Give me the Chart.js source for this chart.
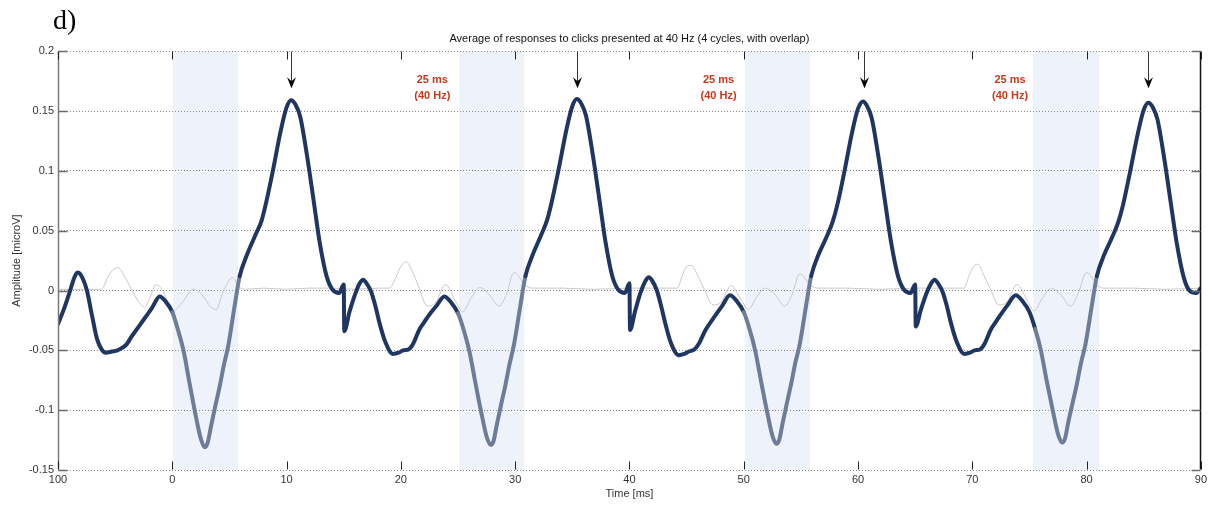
<!DOCTYPE html>
<html>
<head>
<meta charset="utf-8">
<script src="https://cdn.jsdelivr.net/npm/chart.js@4.4.0/dist/chart.umd.min.js"></script>
<style>
    body { margin: 0; background: #fff; }
    #wrap { position: relative; width: 1210px; height: 505px; }
    #panel {
        position: absolute; left: 53px; top: 4px; line-height: 30px;
        font: 28px "Liberation Serif", "Times New Roman", serif; color: #000;
    }
</style>
</head>
<body>
<div id="wrap">
    <canvas id="erpChart" width="1210" height="505"></canvas>
    <div id="panel">d)</div>
</div>
<script>
// --- Data ---
// averaged response (thick line), one row per 25 ms cycle
const responseTime = [
    -10, -9.5, -9, -8.6, -8.3, -8, -7.5, -7, -6.6, -6.2, -5.8, -5.3, -4.8, -4.4, -4, -3.6, -3, -2.4, -1.8, -1.1, -0.6,
    0, 0.5, 1, 1.5, 2.1, 2.5, 2.85, 3.1, 3.4, 3.8, 4.15, 4.5, 4.9, 5.45, 5.9, 6.5, 7.35, 7.8, 8.2, 8.8, 9.5, 10, 10.4,
    10.8, 11.2, 11.8, 12.4, 12.9, 13.5, 14, 14.6, 15,
    15.05, 15.5, 16, 16.4, 16.7, 17, 17.4, 17.8, 18.1, 18.6, 19.3, 19.8, 20.2, 20.7, 21.1, 21.6, 22, 22.5, 23.1, 23.8, 24.4,
    25, 25.5, 26, 26.5, 27.1, 27.5, 27.85, 28.1, 28.4, 28.8, 29.15, 29.5, 29.9, 30.45, 30.9, 31.5, 32.35, 32.8, 33.2, 33.8,
    34.5, 35, 35.4, 35.8, 36.2, 36.8, 37.4, 37.9, 38.5, 39, 39.6, 40,
    40.05, 40.5, 41, 41.4, 41.7, 42, 42.4, 42.8, 43.1, 43.6, 44.3, 44.8, 45.2, 45.7, 46.1, 46.6, 47, 47.5, 48.1, 48.8, 49.4,
    50, 50.5, 51, 51.5, 52.1, 52.5, 52.85, 53.1, 53.4, 53.8, 54.15, 54.5, 54.9, 55.45, 55.9, 56.5, 57.35, 57.8, 58.2, 58.8,
    59.5, 60, 60.45, 60.8, 61.2, 61.8, 62.4, 62.9, 63.5, 64, 64.6, 65,
    65.05, 65.5, 66, 66.4, 66.7, 67, 67.4, 67.8, 68.1, 68.6, 69.3, 69.8, 70.2, 70.7, 71.1, 71.6, 72, 72.5, 73.1, 73.8, 74.4,
    75, 75.5, 76, 76.5, 77.1, 77.5, 77.85, 78.1, 78.4, 78.8, 79.15, 79.5, 79.9, 80.45, 80.9, 81.5, 82.35, 82.8, 83.2, 83.8,
    84.5, 85, 85.4, 85.8, 86.2, 86.8, 87.4, 87.9, 88.5, 89, 89.6, 90
];
const responseAmp = [
    -0.028, -0.016, -0.002, 0.010, 0.015, 0.013, 0.001, -0.022, -0.040, -0.049, -0.052, -0.051, -0.050, -0.048, -0.045, -0.039, -0.031, -0.023, -0.015, -0.005, -0.009,
    -0.018, -0.033, -0.051, -0.077, -0.107, -0.124, -0.131, -0.127, -0.113, -0.095, -0.080, -0.063, -0.046, -0.013, 0.012, 0.029, 0.048, 0.058, 0.073, 0.100, 0.134, 0.153, 0.159,
    0.155, 0.145, 0.112, 0.073, 0.040, 0.012, 0.001, -0.002, 0.005,
    -0.034, -0.018, -0.003, 0.006, 0.009, 0.006, -0.001, -0.014, -0.026, -0.042, -0.053, -0.052, -0.050, -0.049, -0.044, -0.033, -0.027, -0.020, -0.013, -0.005, -0.010,
    -0.019, -0.033, -0.051, -0.076, -0.105, -0.122, -0.129, -0.126, -0.112, -0.094, -0.079, -0.062, -0.045, -0.013, 0.012, 0.029, 0.048, 0.059, 0.074, 0.101,
    0.135, 0.154, 0.160, 0.156, 0.146, 0.113, 0.074, 0.041, 0.012, 0.001, -0.002, 0.006,
    -0.033, -0.017, -0.001, 0.008, 0.011, 0.008, 0.000, -0.014, -0.026, -0.043, -0.054, -0.053, -0.051, -0.049, -0.044, -0.034, -0.028, -0.021, -0.013, -0.004, -0.009,
    -0.018, -0.032, -0.050, -0.075, -0.104, -0.121, -0.128, -0.125, -0.111, -0.093, -0.078, -0.061, -0.045, -0.013, 0.012, 0.029, 0.047, 0.058, 0.072, 0.099,
    0.133, 0.152, 0.158, 0.154, 0.144, 0.111, 0.072, 0.040, 0.012, 0.001, -0.002, 0.005,
    -0.030, -0.016, -0.002, 0.006, 0.009, 0.006, -0.001, -0.014, -0.026, -0.042, -0.053, -0.052, -0.050, -0.049, -0.044, -0.033, -0.027, -0.020, -0.012, -0.004, -0.009,
    -0.018, -0.032, -0.050, -0.075, -0.103, -0.120, -0.127, -0.124, -0.110, -0.093, -0.078, -0.061, -0.045, -0.013, 0.012, 0.029, 0.047, 0.058, 0.072, 0.099,
    0.132, 0.151, 0.157, 0.153, 0.143, 0.110, 0.071, 0.039, 0.011, 0.000, -0.002, 0.002
];

// thin grey trace around zero
const noiseTime = [
    -10, -8, -6.2, -5.6, -5.1, -4.7, -4.2, -3.4, -2.9, -2.4, -2, -1.4, -0.8, 0.07, 0.95, 1.8, 2.55, 3.4, 3.85, 4.4, 5.3, 5.75, 6.3, 8, 10, 12, 14, 16, 18,
    19, 19.6, 20, 20.45, 21, 21.6, 22.3, 23.05, 23.9, 24.8, 25.4, 26.1, 26.9, 27.7, 28.6, 29.2, 29.9, 30.9, 31.5, 34, 37, 40, 42,
    44.2, 44.6, 45, 45.4, 46, 46.6, 47.3, 48, 48.9, 49.8, 50.4, 51.1, 51.9, 52.7, 53.6, 54.2, 54.9, 55.9, 56.5, 59, 62, 65, 67,
    69.3, 69.7, 70.1, 70.5, 71, 71.6, 72.3, 73, 73.9, 74.8, 75.4, 76.1, 76.9, 77.7, 78.6, 79.2, 80, 81, 81.5, 84, 87, 90
];
const noiseAmp = [
    0.001, 0.001, 0.001, 0.012, 0.018, 0.019, 0.012, -0.002, -0.010, -0.014, -0.007, 0.005, -0.001, -0.017, -0.009, 0.001, -0.003, -0.014, -0.016, -0.002, 0.011, 0.004, 0.001, 0.002, 0.001, 0.002, 0.002, 0.001, 0.002,
    0.002, 0.012, 0.020, 0.024, 0.016, 0.002, -0.013, -0.010, 0.005, -0.009, -0.018, -0.007, 0.0025, -0.003, -0.013, -0.004, 0.015, 0.0045, 0.002, 0.002, 0.001, 0.002, 0.002,
    0.002, 0.012, 0.020, 0.021, 0.012, 0.000, -0.012, -0.010, 0.004, -0.008, -0.016, -0.006, 0.002, -0.003, -0.013, -0.004, 0.014, 0.004, 0.002, 0.002, 0.001, 0.002, 0.002,
    0.002, 0.012, 0.020, 0.022, 0.013, 0.001, -0.012, -0.010, 0.005, -0.008, -0.017, -0.007, 0.002, -0.003, -0.013, -0.004, 0.015, 0.004, 0.002, 0.002, 0.001, 0.002
];

// click windows (shaded), peak arrows, period labels
const shadeStart = [0.05, 25.1, 50.1, 75.3];
const shadeEnd = [5.75, 30.8, 55.8, 81.1];
const peakTime = [10.35, 35.4, 60.5, 85.35];
const arrowTipAmp = 0.169;
const periodLabelTime = [22.75, 47.8, 73.3];
const periodLabelLines = ["25 ms", "(40 Hz)"];
const periodLabelAmp = [0.176, 0.163];

// axes
const xTickValues = [-10, 0, 10, 20, 30, 40, 50, 60, 70, 80, 90];
const xTickLabels = ["100", "0", "10", "20", "30", "40", "50", "60", "70", "80", "90"];
const yTickValues = [0.2, 0.15, 0.1, 0.05, 0, -0.05, -0.1, -0.15];
const yTickLabels = ["0.2", "0.15", "0.1", "0.05", "0", "-0.05", "-0.1", "-0.15"];

// --- Colours ---
const navy = "#1f3662";
const shadedLine = "#6d7c99";
const shadeFill = "#eef3fb";

const inShade = (t) => shadeStart.some((s, i) => t >= s && t <= shadeEnd[i]);

// --- Plugin: shading, frame with inward ticks, arrows and labels ---
const overlayPlugin = {
    id: "overlay",
    beforeDraw(chart) {
        const { ctx, chartArea: a, scales: { x } } = chart;
        ctx.save();
        ctx.fillStyle = shadeFill;
        shadeStart.forEach((s, i) => {
            const x0 = x.getPixelForValue(s);
            const x1 = x.getPixelForValue(shadeEnd[i]);
            ctx.fillRect(x0, a.top, x1 - x0, a.bottom - a.top);
        });
        ctx.restore();
    },
    afterDraw(chart) {
        const { ctx, chartArea: a, scales: { x, y } } = chart;
        const L = Math.round(a.left) + 0.5;
        const R = Math.round(a.right) - 0.5;
        const T = Math.round(a.top) + 0.5;
        const B = Math.round(a.bottom) - 0.5;
        ctx.save();

        // left and right box edges
        ctx.lineWidth = 1.5;
        ctx.strokeStyle = "#7a7a7a";
        ctx.beginPath(); ctx.moveTo(L, T); ctx.lineTo(L, B); ctx.stroke();
        ctx.strokeStyle = "#111";
        ctx.beginPath(); ctx.moveTo(R, T); ctx.lineTo(R, B); ctx.stroke();

        // y ticks pointing inward
        ctx.lineWidth = 1.5;
        ctx.strokeStyle = "#6a6a6a";
        yTickValues.forEach((v) => {
            const py = Math.round(y.getPixelForValue(v)) + 0.5;
            ctx.beginPath();
            ctx.moveTo(L, py); ctx.lineTo(L + 9, py);
            ctx.moveTo(R, py); ctx.lineTo(R - 9, py);
            ctx.stroke();
        });

        // x ticks pointing inward (top and bottom)
        ctx.lineWidth = 1;
        ctx.strokeStyle = "#222";
        xTickValues.forEach((v) => {
            const px = Math.round(x.getPixelForValue(v)) + 0.5;
            ctx.beginPath();
            ctx.moveTo(px, B); ctx.lineTo(px, B - 8);
            ctx.moveTo(px, T); ctx.lineTo(px, T + 8);
            ctx.stroke();
        });

        // arrows above each peak
        const tipY = y.getPixelForValue(arrowTipAmp);
        peakTime.forEach((t) => {
            const px = Math.round(x.getPixelForValue(t)) + 0.5;
            ctx.strokeStyle = "#333";
            ctx.lineWidth = 1;
            ctx.beginPath(); ctx.moveTo(px, T); ctx.lineTo(px, tipY - 6); ctx.stroke();
            ctx.fillStyle = "#000";
            ctx.beginPath();
            ctx.moveTo(px, tipY);
            ctx.lineTo(px - 4.5, tipY - 11);
            ctx.lineTo(px, tipY - 7);
            ctx.lineTo(px + 4.5, tipY - 11);
            ctx.closePath();
            ctx.fill();
        });

        // "25 ms (40 Hz)" labels
        ctx.fillStyle = "#c8391c";
        ctx.font = "bold 11px Arial, 'Liberation Sans', sans-serif";
        ctx.textAlign = "center";
        ctx.textBaseline = "middle";
        periodLabelTime.forEach((t) => {
            const px = x.getPixelForValue(t);
            periodLabelLines.forEach((line, k) => {
                ctx.fillText(line, px, y.getPixelForValue(periodLabelAmp[k]));
            });
        });
        ctx.restore();
    },
};

// --- Chart.js Setup ---
const ctx = document.getElementById("erpChart").getContext("2d");
const tickFont = { family: "Arial, 'Liberation Sans', sans-serif", size: 11 };

new Chart(ctx, {
    type: "line",
    data: {
        datasets: [
            {
                label: "other",
                data: noiseTime.map((t, i) => ({ x: t, y: noiseAmp[i] })),
                borderColor: "#c8c8c8",
                borderWidth: 1,
                pointRadius: 0,
                cubicInterpolationMode: "monotone",
                order: 2,
            },
            {
                label: "average",
                data: responseTime.map((t, i) => ({ x: t, y: responseAmp[i] })),
                borderColor: navy,
                borderWidth: 4,
                borderCapStyle: "round",
                borderJoinStyle: "round",
                pointRadius: 0,
                cubicInterpolationMode: "monotone",
                segment: {
                    // lighter colour while inside a click window
                    borderColor: (c) =>
                        inShade((c.p0.parsed.x + c.p1.parsed.x) / 2) ? shadedLine : navy,
                },
                order: 1,
            },
        ],
    },
    options: {
        responsive: false,
        animation: false,
        layout: { padding: { left: 0, right: 8, top: 0, bottom: 0 } },
        plugins: {
            legend: { display: false },
            tooltip: { enabled: false },
            title: {
                display: true,
                fullSize: false,
                text: "Average of responses to clicks presented at 40 Hz (4 cycles, with overlap)",
                color: "#111",
                font: { family: tickFont.family, size: 11, weight: "normal" },
                padding: { top: 32, bottom: 6 },
            },
        },
        scales: {
            x: {
                type: "linear",
                min: -10,
                max: 90,
                afterBuildTicks: (scale) => {
                    scale.ticks = xTickValues.map((v) => ({ value: v }));
                },
                afterFit: (scale) => { scale.height = 35; },
                ticks: {
                    callback: (value, index) => xTickLabels[index],
                    font: tickFont,
                    color: "#333",
                    padding: 3,
                    maxRotation: 0,
                },
                grid: { display: false, drawTicks: false },
                border: { display: false },
                title: {
                    display: true,
                    text: "Time [ms]",
                    font: tickFont,
                    color: "#333",
                    padding: { top: 0, bottom: 4 },
                },
            },
            y: {
                type: "linear",
                min: -0.15,
                max: 0.2,
                afterBuildTicks: (scale) => {
                    scale.ticks = yTickValues.map((v) => ({ value: v }));
                },
                afterFit: (scale) => { scale.width = 58; },
                ticks: {
                    callback: (value, index) => yTickLabels[index],
                    font: tickFont,
                    color: "#333",
                    padding: 4,
                },
                grid: { color: "#8a8a8a", lineWidth: 1, drawTicks: false },
                border: { display: false, dash: [1, 2] },
                title: {
                    display: true,
                    text: "Amplitude [microV]",
                    font: tickFont,
                    color: "#333",
                    padding: { top: 10, bottom: 0 },
                },
            },
        },
    },
    plugins: [overlayPlugin],
});
</script>
</body>
</html>
